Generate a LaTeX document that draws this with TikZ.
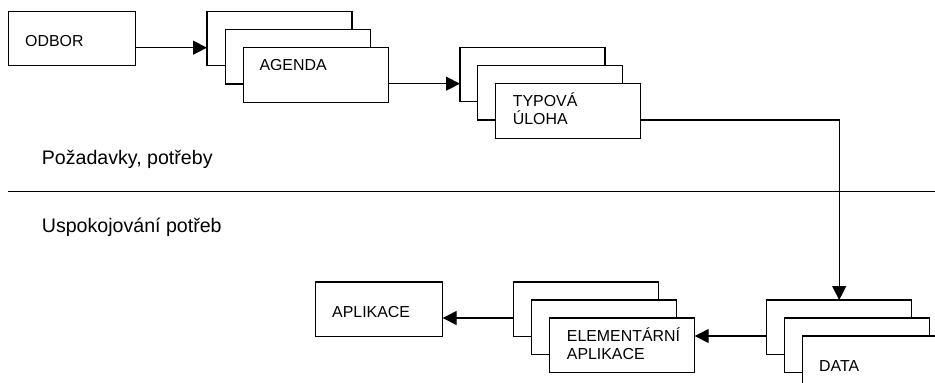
\documentclass[tikz,border=0pt]{standalone}
\usepackage{fontspec}
\setmainfont{Liberation Sans}
\usetikzlibrary{arrows.meta}
\begin{document}
\begin{tikzpicture}[x=1pt,y=-1pt,
  box/.style={draw, line width=1.3pt, fill=white, rectangle, inner sep=0pt, outer sep=0pt,
    anchor=north west, minimum width=145pt, minimum height=54.5pt},
  lbl/.style={anchor=base west, inner sep=0pt, font=\fontsize{15.9}{18}\selectfont},
  big/.style={anchor=base west, inner sep=0pt, font=\fontsize{19.6}{22}\selectfont},
  conn/.style={line width=1.3pt},
  arr/.style={conn, -{Triangle[length=14pt,width=14pt]}}]
\clip (0,0) rectangle (935,383);
\fill[white] (0,0) rectangle (935,383);

% ODBOR
\node[box, minimum width=127.5pt] (odbor) at (8.3,11.2) {};
% AGENDA stack
\node[box] (ag1) at (207,11.3) {};
\node[box] (ag2) at (225.2,29.5) {};
\node[box] (ag3) at (243.3,47.7) {};
% TYPOVA stack
\node[box] (ty1) at (460,47.3) {};
\node[box] (ty2) at (477.7,65.5) {};
\node[box] (ty3) at (495.3,83.7) {};
% APLIKACE
\node[box, minimum width=127pt] (app) at (315.7,282) {};
% ELEMENTARNI stack
\node[box] (el1) at (513.7,282) {};
\node[box] (el2) at (531.7,300) {};
\node[box] (el3) at (549.7,318) {};
% DATA stack
\node[box] (da1) at (766.7,300) {};
\node[box] (da2) at (784.5,318) {};
\node[box] (da3) at (802.3,336) {};

% texts
\node[lbl] (todbor) at (25,46.7) {ODBOR};
\node[lbl] (tagenda) at (259.3,70.7) {AGENDA};
\node[lbl] (ttyp1) at (512.7,106.7) {TYPOVÁ};
\node[lbl] (ttyp2) at (512.7,124.7) {ÚLOHA};
\node[lbl] (tapp) at (332,317.3) {APLIKACE};
\node[lbl] (tel1) at (566.7,341.3) {ELEMENTÁRNÍ};
\node[lbl] (tel2) at (566.7,359.6) {APLIKACE};
\node[lbl] (tdata) at (819,371) {DATA};
\node[big] (tpoz) at (41.7,164) {Požadavky, potřeby};
\node[big] (tusp) at (41.7,232.7) {Uspokojování potřeb};

% divider
\coordinate (ruleL) at (8.3,191.7);
\coordinate (ruleR) at (940,191.7);
\draw[conn] (ruleL) -- (ruleR);

% connectors
\draw[arr] (odbor.east |- ag3.north) -- (ag1.west |- ag3.north);
\draw[arr] (ag3.east |- ty3.north) -- (ty1.west |- ty3.north);
\draw[arr] (ty3.east |- ty2.south) -| (da1.north);
\draw[arr] (da1.west |- da3.north) -- (el3.east |- da3.north);
\draw[arr] (el1.west |- el3.north) -- (app.east |- el3.north);
\end{tikzpicture}
\end{document}
